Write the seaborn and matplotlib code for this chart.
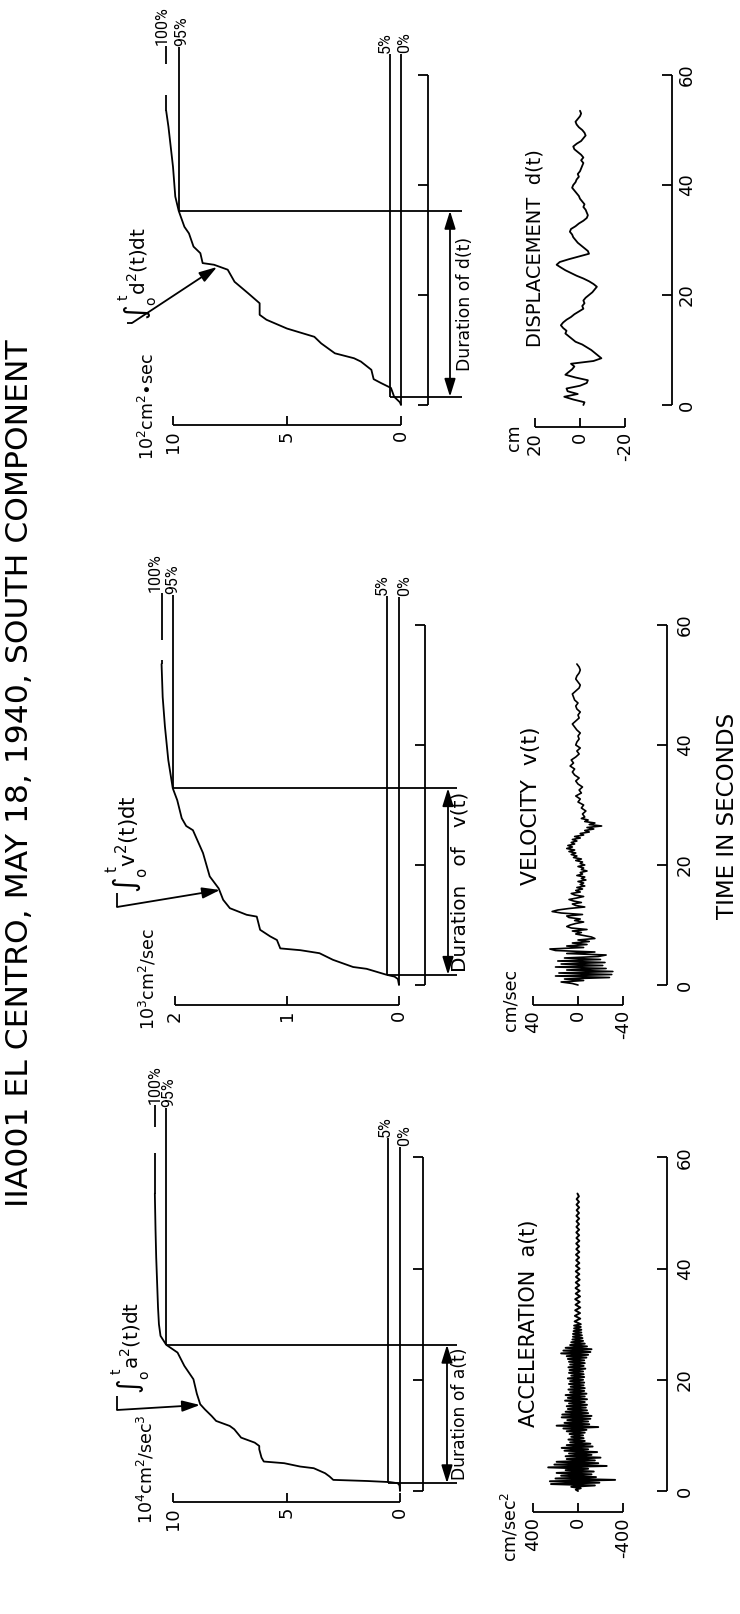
import numpy as np
import matplotlib
matplotlib.use('Agg')
import matplotlib.pyplot as plt
from matplotlib import font_manager as fm
import seaborn as sns

sns.set_theme(style='white')
plt.rcParams['font.family'] = ['DejaVu Sans']
plt.rcParams['mathtext.fontset'] = 'dejavusans'

_names = {f.name for f in fm.fontManager.ttflist}
NARROW = 'Roboto' if 'Roboto' in _names else 'DejaVu Sans'

# ------------------------------------------------------------------ data
TITLE = "IIA001 EL CENTRO, MAY 18, 1940, SOUTH COMPONENT"
TIME_LABEL = "TIME IN SECONDS"
time_ticks = [0, 20, 40, 60]
level_labels = ["100%", "95%", "5%", "0%"]

# cumulative integrals (time in s, value in axis units)
acc_cum_t = [0, 1.0, 1.4, 1.6, 1.8, 2.0, 2.6, 3.2, 4.1, 4.4, 5.0, 5.3, 6.0, 7.5, 8.1, 8.7,
             9.6, 11.1, 11.7, 12.6, 13.5, 14.7, 15.6, 17.5, 20.1, 22.5, 24.9, 26.3, 27.9,
             30.0, 33.0, 37.5, 42.0, 47.0, 53.5]
acc_cum_v = [0, 0.02, 0.1, 0.44, 1.45, 2.94, 3.1, 3.3, 3.8, 4.4, 5.1, 6.0, 6.1, 6.2, 6.2, 6.4,
             7.0, 7.3, 7.5, 8.1, 8.3, 8.6, 8.8, 8.95, 9.1, 9.5, 9.8, 10.3, 10.55, 10.62, 10.66,
             10.7, 10.74, 10.77, 10.8]
acc_levels = [10.8, 10.3, 0.53, 0.0]
acc_t5, acc_t95 = 1.4, 26.3

vel_cum_t = [0, 1.0, 1.4, 1.7, 2.7, 3.0, 4.2, 5.3, 5.8, 6.1, 7.5, 8.1, 9.2, 11.4, 11.7, 12.8,
             14.2, 16.1, 18.1, 22.0, 25.8, 26.5, 27.8, 30.8, 32.8, 37.5, 43.1, 48.0, 53.5]
vel_cum_v = [0, 0.01, 0.04, 0.11, 0.29, 0.41, 0.59, 0.71, 0.88, 1.06, 1.09, 1.15, 1.24, 1.27,
             1.36, 1.51, 1.57, 1.61, 1.69, 1.75, 1.84, 1.90, 1.94, 1.98, 2.02, 2.06, 2.09,
             2.11, 2.12]
vel_levels = [2.12, 2.02, 0.11, 0.0]
vel_t5, vel_t95 = 1.7, 32.8

dis_cum_t = [0, 0.5, 1.5, 3.1, 4.0, 4.7, 6.4, 7.9, 8.5, 9.4, 11.2, 12.4, 13.9, 15.5, 16.4,
             18.5, 20.3, 22.4, 24.6, 25.5, 25.8, 27.6, 28.8, 31.2, 32.4, 35.3, 37.9, 43.3,
             50.6, 53.5]
dis_cum_v = [0, 0.05, 0.3, 0.44, 0.88, 1.2, 1.3, 1.76, 2.06, 2.9, 3.5, 3.8, 5.0, 5.9, 6.2,
             6.2, 6.7, 7.3, 7.6, 8.2, 8.7, 8.8, 9.1, 9.3, 9.5, 9.75, 9.9, 10.0, 10.2, 10.3]
dis_levels = [10.3, 9.75, 0.5, 0.0]
dis_t5, dis_t95 = 1.5, 35.3

# acceleration record (cm/sec^2): 0-30 s every 0.25 s, then 30.5-53.5 s every 0.5 s
acc_strong = [0, 20, -25, 60, -150, 240, -190, 250, -330, 200, -160, 150, -120, 190, -140,
              110, -90, 265, -255, 210, -180, 190, -150, 100, -200, 110, -120, 80, -170, 120,
              -90, 145, -130, 100, -110, 70, -60, 85, -50, 60, -45, 75, -60, 100, -75, 130,
              -180, 190, -100, 120, -90, 95, -110, 145, -120, 140, -90, 110, -80, 90, -70, 100,
              -80, 80, -60, 115, -80, 90, -60, 110, -75, 70, -55, 85, -60, 65, -50, 80, -55,
              70, -45, 90, -55, 60, -50, 80, -45, 75, -65, 85, -50, 70, -60, 80, -55, 90, -75,
              100, -90, 150, -110, 130, -120, 110, -80, 70, -60, 60, -45, 50, -40, 45, -35, 45,
              -30, 40, -30, 35, -25, 35, -25]
acc_coda = [30, -20, 28, -18, 25, -20, 22, -15, 25, -18, 20, -15, 22, -12, 20, -15, 18, -12,
            20, -14, 18, -12, 16, -10, 18, -12, 15, -10, 16, -12, 14, -10, 15, -10, 14, -9,
            13, -10, 14, -9, 12, -10, 13, -9, 12, -8, 5]

# velocity record (cm/sec): 0-28 s every 0.25 s, then 28.5-53.5 s every 0.5 s
vel_strong = [0, 5, 15, -5, 12, -28, 20, -30, 17, -31, 10, -25, 20, -22, 15, -24, 18, -20, 12,
              -18, -25, 10, -15, 20, 25, -5, 10, -8, 5, -10, 0, -15, -12, -5, 2, -3, 5, -8, 6,
              10, 7, 2, -5, 3, -2, 8, 10, -4, 15, 23, 18, 8, -6, 2, 5, -3, 4, 8, 1, -5, 3, 6,
              -2, 2, -4, 1, -6, -2, -5, 0, -7, -3, -6, 1, -4, -2, -8, -3, -5, 0, -6, -2, -4, 2,
              -3, 4, 1, 6, 2, 8, 3, 10, 5, 9, 3, 6, 1, 5, -2, 3, -5, -2, -10, -6, -14, -8, -21,
              -10, -15, -6, -9, -3, -6]
vel_coda = [-4, -7, -3, -5, 0, -2, 2, -3, -1, -4, 0, 2, -1, 3, 5, 3, 7, 4, 6, 2, -1, 1, -2, 2,
            1, -1, 0, -2, 1, 3, 5, 2, -1, 0, -2, 1, 2, 0, 3, 4, 5, 2, -1, -2, 0, 2, 1, -1, -2,
            -1, 1]

# displacement record (cm): 0-53.5 s every 0.5 s
dis_vals = [-1.5, -2.0, 3.0, 7.0, 1.0, 5.5, 6.0, 0.0, -3.0, -3.5, 2.0, 6.5, 5.0, 3.5, 2.5, 4.0,
            -6.0, -9.5, -8.0, -6.5, -5.0, -3.0, -1.0, 2.0, 3.5, 5.0, 6.5, 6.0, 7.5, 8.5, 7.5,
            6.0, 4.0, 2.5, 0.5, -1.5, -1.0, -2.0, -1.5, -2.5, -4.0, -5.5, -6.5, -7.5, -6.0,
            -4.0, -1.5, 1.5, 4.0, 6.5, 8.5, 10.4, 9.0, 5.0, 0.5, -4.0, -3.5, -2.0, -0.5, 1.0,
            2.0, 3.0, 3.5, 4.5, 4.0, 2.0, 0.5, -1.5, -3.0, -3.5, -3.0, -2.5, -1.5, -2.0, -1.0,
            0.0, 0.5, 1.5, 2.5, 3.5, 3.0, 2.0, 1.5, 0.5, 1.0, 0.0, -0.5, -1.0, -1.5, -0.5,
            -1.5, -0.5, 1.0, 2.5, 3.0, 1.5, -0.5, -1.5, -2.5, -2.0, -1.0, 0.5, 1.5, 2.0, 1.0,
            0.0, -0.5, 0.0]

acc_t = np.concatenate([np.arange(len(acc_strong)) * 0.25, 30.5 + np.arange(len(acc_coda)) * 0.5])
acc_v = np.array(acc_strong + acc_coda, dtype=float)
vel_t = np.concatenate([np.arange(len(vel_strong)) * 0.25, 28.5 + np.arange(len(vel_coda)) * 0.5])
vel_v = np.array(vel_strong + vel_coda, dtype=float)
dis_t = np.arange(len(dis_vals)) * 0.5
dis_v = np.array(dis_vals, dtype=float)

# ------------------------------------------------------------------ layout
W, H = 740, 1614
fig = plt.figure(figsize=(W / 100, H / 100), dpi=100)
fig.patch.set_facecolor('white')
K = 'black'
LW = 1.3


class PxAx:
    """Axes whose value axis runs right-to-left and time axis bottom-to-top."""
    def __init__(self, box, v0px, ppu, t0py, pps):
        x0, x1, y0, y1 = box
        self.v0px, self.ppu, self.t0py, self.pps = v0px, ppu, t0py, pps
        self.ax = fig.add_axes([x0 / W, 1 - y1 / H, (x1 - x0) / W, (y1 - y0) / H])
        self.ax.set_xlim(self.v(x0), self.v(x1))
        self.ax.set_ylim(self.t(y1), self.t(y0))
        self.ax.axis('off')
        self.ax.set_facecolor('none')

    def v(self, px): return (self.v0px - px) / self.ppu
    def t(self, py): return (self.t0py - py) / self.pps
    def px(self, v): return self.v0px - v * self.ppu
    def py(self, t): return self.t0py - t * self.pps

    def line(self, pxs, pys, lw=LW):
        self.ax.plot([self.v(p) for p in pxs], [self.t(p) for p in pys], color=K, lw=lw,
                     clip_on=False, solid_capstyle='butt')


def ptext(px, py, s, size, ha='center', va='center', rot=90, family=None):
    kw = {}
    if family:
        kw['family'] = family
    return fig.text(px / W, 1 - py / H, s, fontsize=size, ha=ha, va=va, rotation=rot,
                    rotation_mode='anchor', color=K, **kw)


def fit_len(txt, target):
    r = fig.canvas.get_renderer()
    L = txt.get_window_extent(r).height
    txt.set_fontsize(txt.get_fontsize() * target / L)


groups = [
    dict(name='acc', cum_t=acc_cum_t, cum_v=acc_cum_v, levels=acc_levels, t5=acc_t5, t95=acc_t95,
         ts_t=acc_t, ts_v=acc_v, ts_lw=1.4,
         t0=1491, pps=5.56, cum_box=(100, 480, 1060, 1520), cum_v0=400, cum_ppu=22.7,
         cum_ticks=[0, 5, 10], cum_axis_y=1502, bracket_x=423,
         units=r'$\mathrm{10^4cm^2/sec^3}$', units_xy=(146, 1524),
         level_top=[1105, 1108, 1138, 1147], gap=(1153, 1127), label_dx=[0, 3, -3, 5],
         dur_end=457, arrow_x=447, dur_x=460, dur_text='Duration of a(t)', dur_len=132,
         integ=r'$\int_{\mathrm{o}}^{\,\mathrm{t}}\mathrm{a^2(t)dt}$', integ_xy=(131, 1394),
         integ_len=92, leader=[(117, 1396), (117, 1410), (200, 1405)],
         ts_box=(480, 720, 1100, 1580), ts_v0=578, ts_ppu=0.1125, ts_ticks=[400, 0, -400],
         ts_axis_y=1512, ts_units=r'$\mathrm{cm/sec^2}$', ts_units_xy=(510, 1527),
         time_x=667, time_lab_x=685, ts_title='ACCELERATION  a(t)', ts_title_xy=(529, 1323),
         ts_title_len=207),
    dict(name='vel', cum_t=vel_cum_t, cum_v=vel_cum_v, levels=vel_levels, t5=vel_t5, t95=vel_t95,
         ts_t=vel_t, ts_v=vel_v, ts_lw=1.2,
         t0=985, pps=6.0, cum_box=(100, 480, 560, 1040), cum_v0=399, cum_ppu=112,
         cum_ticks=[0, 1, 2], cum_axis_y=1005, bracket_x=425,
         units=r'$\mathrm{10^3cm^2/sec}$', units_xy=(148, 1030),
         level_top=[593, 595, 596, 597], gap=(660, 640), label_dx=[-6, 0, -4, 6],
         dur_end=457, arrow_x=448, dur_x=460, dur_text='Duration   of   v(t)', dur_len=179,
         integ=r'$\int_{\mathrm{o}}^{\,\mathrm{t}}\mathrm{v^2(t)dt}$', integ_xy=(128, 893),
         integ_len=98, leader=[(117, 893), (117, 907), (220, 890)],
         ts_box=(480, 720, 600, 1060), ts_v0=578, ts_ppu=1.125, ts_ticks=[40, 0, -40],
         ts_axis_y=1005, ts_units='cm/sec', ts_units_xy=(511, 1000),
         time_x=667, time_lab_x=685, ts_title='VELOCITY  v(t)', ts_title_xy=(531, 806),
         ts_title_len=158),
    dict(name='dis', cum_t=dis_cum_t, cum_v=dis_cum_v, levels=dis_levels, t5=dis_t5, t95=dis_t95,
         ts_t=dis_t, ts_v=dis_v, ts_lw=1.3,
         t0=405, pps=5.5, cum_box=(100, 480, 0, 460), cum_v0=401, cum_ppu=22.8,
         cum_ticks=[0, 5, 10], cum_axis_y=425, bracket_x=428,
         units=r'$\mathrm{10^2cm^2{\bullet}sec}$', units_xy=(148, 460),
         level_top=[46, 47, 54, 54], gap=(95, 64), label_dx=[-4, 3, -4, 4],
         dur_end=462, arrow_x=450, dur_x=465, dur_text='Duration of d(t)', dur_len=133,
         integ=r'$\int_{\mathrm{o}}^{\,\mathrm{t}}\mathrm{d^2(t)dt}$', integ_xy=(138, 320),
         integ_len=93, leader=[(127, 323), (132, 323), (217, 267)],
         ts_box=(480, 720, 40, 480), ts_v0=580, ts_ppu=2.25, ts_ticks=[20, 0, -20],
         ts_axis_y=427, ts_units='cm', ts_units_xy=(514, 438),
         time_x=672, time_lab_x=687, ts_title='DISPLACEMENT  d(t)', ts_title_xy=(535, 248),
         ts_title_len=197),
]

TICK_FS = 13
LEVEL_FS = 11.5 if NARROW == 'Roboto' else 10
UNITS_FS = 12.5

for g in groups:
    # ---------------- cumulative integral panel
    c = PxAx(g['cum_box'], g['cum_v0'], g['cum_ppu'], g['t0'], g['pps'])
    sns.lineplot(x=g['cum_v'], y=g['cum_t'], ax=c.ax, color=K, lw=LW, sort=False,
                 estimator=None, legend=False)
    ay = g['cum_axis_y']
    ticks = g['cum_ticks']
    c.line([c.px(max(ticks)), c.px(min(ticks))], [ay, ay])
    for tv in ticks:
        c.line([c.px(tv)] * 2, [ay, ay - 9])
        ptext(c.px(tv), ay + 5, f"{tv:g}", TICK_FS, ha='right')
    ptext(g['units_xy'][0], g['units_xy'][1], g['units'], UNITS_FS, ha='left')

    # time bracket
    bx = g['bracket_x']
    c.line([bx, bx], [c.py(0), c.py(60)])
    for tt in time_ticks:
        c.line([bx, bx - 10], [c.py(tt)] * 2)

    # percentage levels
    t_end = g['cum_t'][-1]
    starts = [t_end, g['t95'], g['t5'], 0.0]
    for i, (lv, lab) in enumerate(zip(g['levels'], level_labels)):
        x = c.px(lv)
        top = g['level_top'][i]
        if i == 0:
            c.line([x, x], [c.py(t_end), g['gap'][0]])
            c.line([x, x], [g['gap'][1], top])
        else:
            c.line([x, x], [c.py(starts[i]), top])
        ptext(x + g['label_dx'][i], top - 1, lab, LEVEL_FS, ha='left', family=NARROW)

    # duration lines and arrow
    for tt, lv in ((g['t5'], g['levels'][2]), (g['t95'], g['levels'][1])):
        c.line([c.px(lv), g['dur_end']], [c.py(tt)] * 2)
    c.ax.annotate('', xy=(c.v(g['arrow_x']), g['t95']), xytext=(c.v(g['arrow_x']), g['t5']),
                  arrowprops=dict(arrowstyle='<|-|>,head_length=0.9,head_width=0.28', color=K,
                                  lw=LW, shrinkA=0, shrinkB=0), annotation_clip=False)
    dt = ptext(g['dur_x'], c.py((g['t5'] + g['t95']) / 2), g['dur_text'], 12)
    fit_len(dt, g['dur_len'])

    # integral label with leader arrow
    it = ptext(g['integ_xy'][0], g['integ_xy'][1], g['integ'], 13, ha='left')
    fit_len(it, g['integ_len'])
    (p0, p1, p2) = g['leader']
    c.line([p0[0], p1[0]], [p0[1], p1[1]])
    c.ax.annotate('', xy=(c.v(p2[0]), c.t(p2[1])), xytext=(c.v(p1[0]), c.t(p1[1])),
                  arrowprops=dict(arrowstyle='-|>,head_length=0.9,head_width=0.28', color=K,
                                  lw=LW, shrinkA=0, shrinkB=0), annotation_clip=False)

    # ---------------- time-history panel
    s = PxAx(g['ts_box'], g['ts_v0'], g['ts_ppu'], g['t0'], g['pps'])
    sns.lineplot(x=g['ts_v'], y=g['ts_t'], ax=s.ax, color=K, lw=g['ts_lw'], sort=False,
                 estimator=None, legend=False)
    sy = g['ts_axis_y']
    tks = g['ts_ticks']
    s.line([s.px(max(tks)), s.px(min(tks))], [sy, sy])
    for tv in tks:
        s.line([s.px(tv)] * 2, [sy, sy - 9])
        ptext(s.px(tv), sy + 5, f"{tv:g}", TICK_FS, ha='right')
    ptext(g['ts_units_xy'][0], g['ts_units_xy'][1], g['ts_units'], 12.5)
    tx = g['time_x']
    s.line([tx, tx], [s.py(0), s.py(60)])
    for tt in time_ticks:
        s.line([tx, tx - 10], [s.py(tt)] * 2)
        ptext(g['time_lab_x'], s.py(tt), f"{tt}", TICK_FS)
    tt_ = ptext(g['ts_title_xy'][0], g['ts_title_xy'][1], g['ts_title'], 13)
    fit_len(tt_, g['ts_title_len'])

title = ptext(20, 773, TITLE, 20)
fit_len(title, 867)
tl = ptext(728, 816, TIME_LABEL, 14)
fit_len(tl, 207)

fig.savefig('out.png', dpi=100, facecolor='white')
